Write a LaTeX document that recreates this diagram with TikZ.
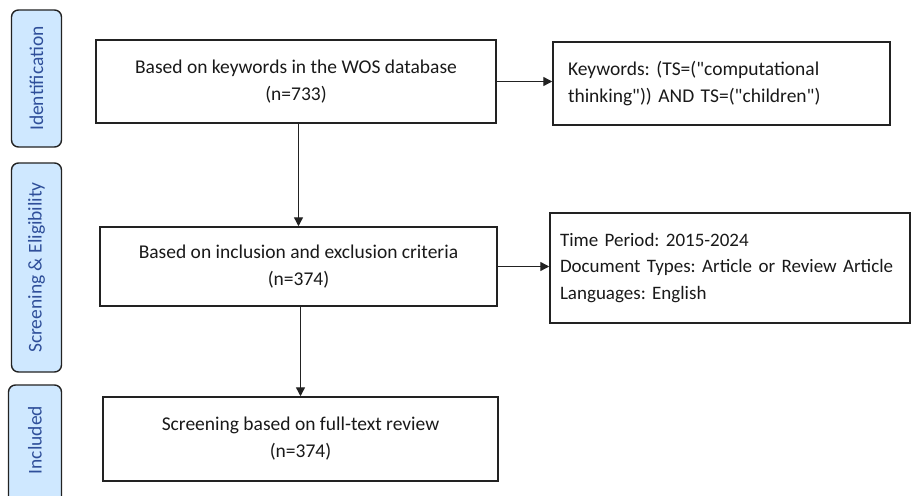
\documentclass[tikz,border=0pt]{standalone}
\usepackage{fontspec}
\setmainfont{Carlito}
\newfontfamily\plainfont{Carlito}
\usetikzlibrary{arrows.meta}
\definecolor{stagefill}{HTML}{CFE8FF}
\definecolor{stagetext}{HTML}{2F4F9A}
\definecolor{boxline}{HTML}{222222}
\tikzset{
  stage/.style={draw=boxline, line width=1.4pt, fill=stagefill, rounded corners=7pt,
    minimum width=50pt, inner sep=0pt, text=stagetext, font=\fontsize{19.5}{22}\selectfont},
  mainbox/.style={draw=boxline, line width=1.5pt, align=center, inner sep=0pt,
    font=\plainfont\fontsize{19.5}{27}\selectfont\frenchspacing, text=black!90},
  sidebox/.style={draw=boxline, line width=1.5pt, align=left, inner ysep=0pt,
    font=\plainfont\fontsize{19.5}{26.5}\selectfont\frenchspacing, text=black!90},
  arr/.style={draw=boxline, line width=1.4pt, -{Triangle[length=9pt,width=9pt]}}
}
\begin{document}
\begin{tikzpicture}[x=1pt,y=-1pt]
\useasboundingbox (0,0) rectangle (912,495);
\begin{scope}
\clip (0,0) rectangle (912,495);
\node[stage, minimum height=137pt] (idl) at (36.5,78.5) {\rotatebox{90}{Identification}};
\node[stage, minimum height=209pt] (scl) at (36.5,267.5) {\rotatebox{90}{Screening \& Eligibility}};
\node[stage, minimum height=122pt, minimum width=53pt] (inl) at (35,446) {};
\node[text=stagetext, font=\fontsize{19.5}{22}\selectfont, rotate=90] (inlt) at (35,440) {Included};

\node[mainbox, minimum width=400pt, minimum height=83pt] (b1) at (296,81.5)
  {Based on keywords in the WOS database\\(n=733)};
\node[mainbox, minimum width=397pt, minimum height=79pt] (b3) at (298.5,266.5)
  {Based on inclusion and exclusion criteria\\(n=374)};
\node[mainbox, minimum width=395pt, minimum height=84pt] (b5) at (300.5,439)
  {Screening based on full-text review\\(n=374)};

\node[sidebox, inner xsep=15pt, minimum height=83pt, text width=307pt] (b2) at (721.5,83.5)
  {Keywords: (TS=("computational\\thinking")) AND TS=("children")};
\node[sidebox, inner xsep=10pt, minimum height=110pt, text width=340pt,
  font=\plainfont\fontsize{19}{26.5}\selectfont\frenchspacing] (b4) at (730,268)
  {Time Period: 2015-2024\\Document Types: Article or Review Article\\Languages: English};

\draw[arr] (b3.north |- b1.south) -- (b3.north);
\draw[arr] (b5.north |- b3.south) -- (b5.north);
\draw[arr] (b1.east) -- (b1.east -| b2.west);
\draw[arr] (b3.east) -- (b3.east -| b4.west);
\end{scope}
\end{tikzpicture}
\end{document}
